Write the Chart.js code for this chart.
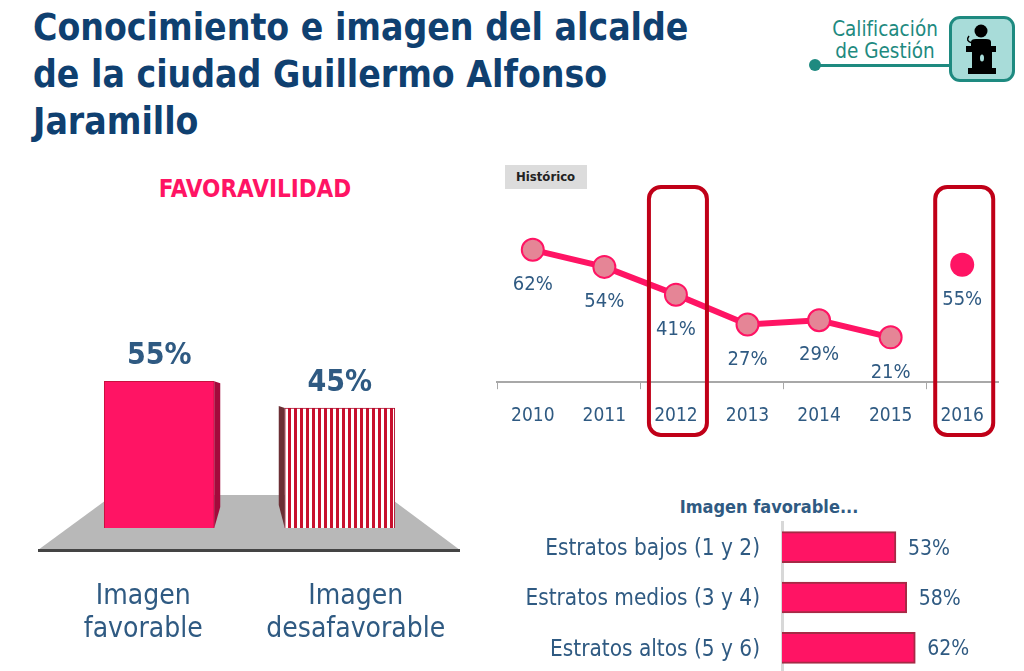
<!DOCTYPE html>
<html lang="es">
<head>
<meta charset="utf-8">
<title>Conocimiento e imagen del alcalde</title>
<script src="https://cdn.jsdelivr.net/npm/chart.js@4/dist/chart.umd.min.js"></script>
<style>
    html, body { margin: 0; padding: 0; background: #fff; }
    body { position: relative; width: 1024px; height: 671px; overflow: hidden; font-family: "DejaVu Sans Condensed", "DejaVu Sans", sans-serif; color: #2f5a82; }
    canvas, .abs { position: absolute; }
    #title { left: 33px; top: 4px; width: 700px; font-size: 37px; line-height: 47px; font-weight: bold; color: #0f4070; }
    #favTitle { left: 130px; width: 250px; top: 175px; text-align: center; font-size: 24px; font-weight: bold; color: #ff1464; }
    #histBox { left: 505px; top: 165px; width: 82px; height: 24px; line-height: 24px; background: #dcdcdc; font-size: 13px; font-weight: bold; color: #222; text-indent: 11px; }
    #segTitle { left: 640px; width: 258px; top: 496px; text-align: center; font-size: 18px; font-weight: bold; }
    #badgeText { left: 810px; width: 150px; top: 18px; text-align: center; font-size: 20.5px; line-height: 22px; color: #1e8a80; }
    #badgeLine { left: 815px; top: 64px; width: 134px; height: 3px; background: #1e8a80; }
    #badgeDot { left: 809px; top: 59px; width: 12px; height: 12px; border-radius: 50%; background: #1e8a80; }
    #badge { left: 949px; top: 16px; width: 60px; height: 60px; border: 3px solid #1e8a80; border-radius: 11px; background: #a8dcd9; }
</style>
</head>
<body>
<div class="abs" id="title">Conocimiento e imagen del alcalde<br>de la ciudad Guillermo Alfonso<br>Jaramillo</div>
<div class="abs" id="badgeText">Calificación<br>de Gestión</div>
<div class="abs" id="badgeLine"></div>
<div class="abs" id="badgeDot"></div>
<div class="abs" id="badge">
    <svg width="60" height="60" viewBox="0 0 60 60">
        <circle cx="29" cy="12" r="6.5" fill="#000"/>
        <path d="M19 28 V23 Q19 20 24 20 H34 Q39 20 39 23 V28 Z" fill="#000"/>
        <path d="M20 24 Q13 22 17 17" stroke="#000" stroke-width="1.5" fill="none"/>
        <path d="M14 27 H44 V33 H40 V49 H20 V33 H14 Z" fill="#000"/>
        <rect x="16" y="49" width="28" height="6" fill="#000"/>
        <ellipse cx="30" cy="39" rx="2" ry="3.5" fill="#a8dcd9"/>
    </svg>
</div>
<div class="abs" id="favTitle">FAVORAVILIDAD</div>
<div class="abs" id="histBox">Histórico</div>
<div class="abs" id="segTitle">Imagen favorable...</div>

<canvas id="favChart" width="480" height="341" style="left:0;top:330px;width:480px;height:341px"></canvas>
<canvas id="histChart" width="534" height="290" style="left:490px;top:160px;width:534px;height:290px"></canvas>
<canvas id="segChart" width="514" height="195" style="left:510px;top:490px;width:514px;height:195px"></canvas>

<script>
const favLabels = [['Imagen', 'favorable'], ['Imagen', 'desafavorable']];
const favValues = [55, 45];

const histYears = ['2010', '2011', '2012', '2013', '2014', '2015', '2016'];
const histValues = [62, 54, 41, 27, 29, 21, null];
const currentValues = [null, null, null, null, null, null, 55];
const highlightYears = ['2012', '2016'];

const segLabels = ['Estratos bajos (1 y 2)', 'Estratos medios (3 y 4)', 'Estratos altos (5 y 6)'];
const segValues = [53, 58, 62];

const FONT = '"DejaVu Sans Condensed", "DejaVu Sans", sans-serif';
const PINK = '#ff1464';
const BLUE = '#2f5a82';

Chart.defaults.animation = false;
Chart.defaults.responsive = false;
Chart.defaults.plugins.legend.display = false;
Chart.defaults.plugins.tooltip.enabled = false;

function stripePattern() {
    const c = document.createElement('canvas');
    c.width = 6;
    c.height = 6;
    const g = c.getContext('2d');
    g.fillStyle = '#fff';
    g.fillRect(0, 0, 6, 6);
    g.fillStyle = '#c8102e';
    g.fillRect(0, 0, 3, 6);
    return g.createPattern(c, 'repeat');
}

function poly(ctx, pts, fill) {
    ctx.beginPath();
    pts.forEach((p, i) => i ? ctx.lineTo(p[0], p[1]) : ctx.moveTo(p[0], p[1]));
    ctx.closePath();
    ctx.fillStyle = fill;
    ctx.fill();
}

// floor, bar sides, percent labels and the category text under the floor
const favDecor = {
    id: 'favDecor',
    beforeDatasetsDraw(chart) {
        const ctx = chart.ctx;
        const base = chart.scales.y.getPixelForValue(0);
        const left = chart.chartArea.left;
        const right = chart.chartArea.right;
        poly(ctx, [[left + 44, base - 33], [right - 44, base - 33], [right + 30, base + 22], [left - 31, base + 22]], '#b8b8b8');
        ctx.fillStyle = '#444';
        ctx.fillRect(left - 31, base + 21, right - left + 61, 3);
    },
    afterDatasetsDraw(chart) {
        const ctx = chart.ctx;
        const bars = chart.getDatasetMeta(0).data;
        const base = chart.scales.y.getPixelForValue(0);

        const a = bars[0];
        const aRight = a.x + a.width / 2;
        poly(ctx, [[aRight, a.y], [aRight + 6, a.y + 2], [aRight + 6, base - 21], [aRight, base]], '#a30a3c');

        const b = bars[1];
        const bLeft = b.x - b.width / 2;
        poly(ctx, [[bLeft, b.y], [bLeft - 6, b.y - 2], [bLeft - 6, base - 23], [bLeft, base]], '#6b2f35');

        ctx.textAlign = 'center';
        ctx.textBaseline = 'alphabetic';
        ctx.fillStyle = BLUE;
        ctx.font = 'bold 30px ' + FONT;
        bars.forEach((bar, i) => ctx.fillText(favValues[i] + '%', bar.x, bar.y - 17));

        ctx.font = '28px ' + FONT;
        const shift = [-16, 16];
        bars.forEach((bar, i) => {
            favLabels[i].forEach((line, j) => {
                ctx.fillText(line, bar.x + shift[i], base + 76 + j * 33);
            });
        });
    }
};

new Chart(document.getElementById('favChart'), {
    type: 'bar',
    data: {
        labels: favLabels,
        datasets: [{
            data: favValues,
            backgroundColor: [PINK, stripePattern()],
            borderColor: ['#c8103f', '#b01030'],
            borderWidth: 1,
            barThickness: 110
        }]
    },
    options: {
        layout: { padding: { left: 69, right: 50, top: 38, bottom: 143 } },
        scales: {
            x: { display: false },
            y: { display: false, min: 0, max: 60 }
        }
    },
    plugins: [favDecor]
});

// value labels under the points and the red frames over 2012 and 2016
const histDecor = {
    id: 'histDecor',
    afterDatasetsDraw(chart) {
        const ctx = chart.ctx;
        ctx.textAlign = 'center';
        ctx.textBaseline = 'middle';
        ctx.fillStyle = BLUE;
        ctx.font = '20px ' + FONT;
        chart.data.datasets.forEach((ds, d) => {
            chart.getDatasetMeta(d).data.forEach((pt, i) => {
                if (ds.data[i] !== null) ctx.fillText(ds.data[i] + '%', pt.x, pt.y + 35);
            });
        });
    },
    afterDraw(chart) {
        const ctx = chart.ctx;
        ctx.strokeStyle = '#c00018';
        ctx.lineWidth = 4;
        highlightYears.forEach(year => {
            const x = chart.scales.x.getPixelForValue(year);
            ctx.beginPath();
            ctx.roundRect(x - 27, 27, 58, 248, 12);
            ctx.stroke();
        });
    }
};

new Chart(document.getElementById('histChart'), {
    type: 'line',
    data: {
        labels: histYears,
        datasets: [{
            data: histValues,
            borderColor: PINK,
            borderWidth: 6,
            pointRadius: 11,
            pointBackgroundColor: '#e58596',
            pointBorderColor: PINK,
            pointBorderWidth: 2
        }, {
            data: currentValues,
            showLine: false,
            pointRadius: 12,
            pointBackgroundColor: PINK,
            pointBorderColor: PINK,
            pointBorderWidth: 0
        }]
    },
    options: {
        layout: { autoPadding: false, padding: { left: 7, right: 26, top: 30, bottom: 8 } },
        scales: {
            x: {
                offset: true,
                border: { color: '#a8a8a8', width: 2 },
                grid: {
                    offset: true,
                    drawOnChartArea: false,
                    tickLength: 7,
                    tickColor: ctx => ctx.index % 2 === 0 ? '#a8a8a8' : 'rgba(0,0,0,0)'
                },
                ticks: { color: BLUE, font: { family: FONT, size: 19 }, padding: 15, maxRotation: 0 }
            },
            y: { display: false, min: 0, max: 90 }
        }
    },
    plugins: [histDecor]
});

const segDecor = {
    id: 'segDecor',
    afterDatasetsDraw(chart) {
        const ctx = chart.ctx;
        ctx.textAlign = 'left';
        ctx.textBaseline = 'middle';
        ctx.fillStyle = BLUE;
        ctx.font = '21px ' + FONT;
        chart.getDatasetMeta(0).data.forEach((bar, i) => {
            ctx.fillText(segValues[i] + '%', bar.x + 12, bar.y + 2);
        });
    }
};

new Chart(document.getElementById('segChart'), {
    type: 'bar',
    data: {
        labels: segLabels,
        datasets: [{
            data: segValues,
            backgroundColor: PINK,
            borderColor: '#a52a45',
            borderWidth: 2,
            barThickness: 31
        }]
    },
    options: {
        indexAxis: 'y',
        layout: { padding: { left: 0, right: 27, top: 32, bottom: 12 } },
        scales: {
            x: { display: false, min: 0, max: 100 },
            y: {
                afterFit: scale => { scale.width = 272; scale.paddingTop = 0; scale.paddingBottom = 0; },
                border: { color: '#d8d8d8', width: 3 },
                grid: { display: false },
                ticks: { color: BLUE, font: { family: FONT, size: 22.4 }, padding: 14, labelOffset: 2 }
            }
        }
    },
    plugins: [segDecor]
});
</script>
</body>
</html>
